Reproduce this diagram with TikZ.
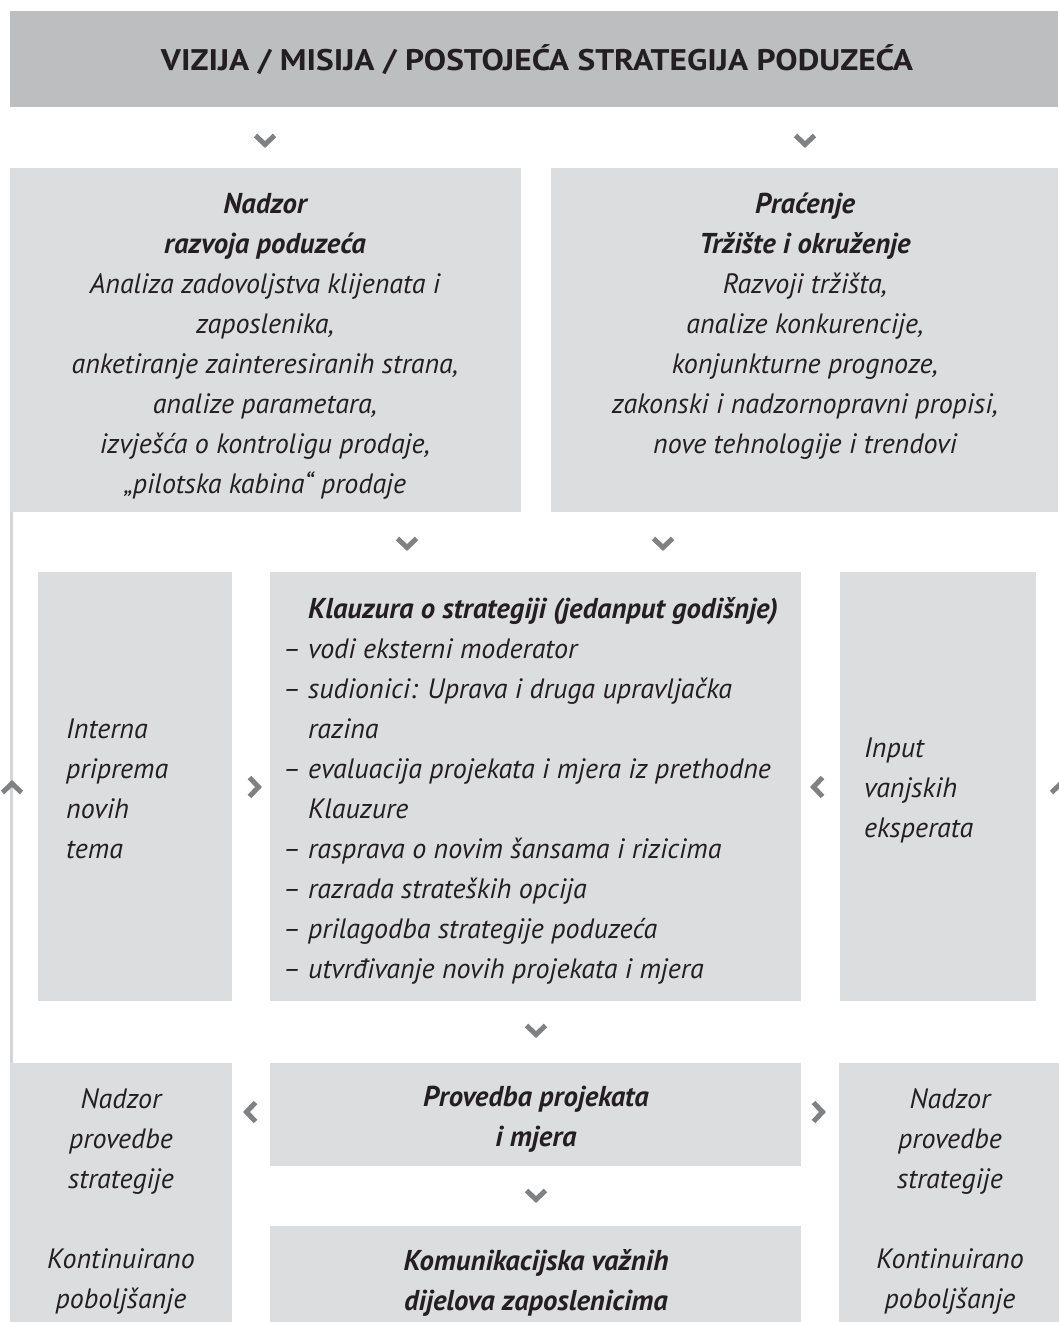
\documentclass[tikz,border=0pt]{standalone}
\usepackage{fontspec}
\setmainfont{PT Sans}
\newfontfamily\titlefont{PT Sans}[FakeStretch=1.12]
\definecolor{band}{HTML}{BDBEC0}
\definecolor{boxfill}{HTML}{DCDDDF}
\definecolor{chevc}{HTML}{808183}
\definecolor{sidec}{HTML}{D4D5D7}
\definecolor{ink}{HTML}{231F20}
\newcommand{\hd}[1]{{\fontsize{28.7}{40}\selectfont\bfseries #1}}
\tikzset{
  panel/.style={fill=boxfill, draw=none, inner sep=0pt, anchor=north west},
  txt/.style={inner sep=0pt, text=ink, align=center, font=\fontsize{28}{40}\selectfont\itshape},
  txtl/.style={txt, align=left},
  hdtxt/.style={txt, font=\fontsize{28.7}{40}\selectfont\bfseries\itshape},
  chevline/.style={draw=chevc, line width=5pt, line join=miter, line cap=butt},
  sideline/.style={draw=sidec, line width=2.5pt},
  chevdown/.pic={\path[chevline] (-9.5,-4.5) -- (0,4.5) -- (9.5,-4.5);},
  chevup/.pic={\path[chevline] (-9.5,4.5) -- (0,-4.5) -- (9.5,4.5);},
  chevright/.pic={\path[chevline] (-4.5,-9.5) -- (4.5,0) -- (-4.5,9.5);},
  chevleft/.pic={\path[chevline] (4.5,-9.5) -- (-4.5,0) -- (4.5,9.5);},
}
\begin{document}
\begin{tikzpicture}[x=1pt,y=-1pt]
\useasboundingbox (0,0) rectangle (1058,1322);
% panels
\node[panel, fill=band, minimum width=1048pt, minimum height=96pt] (top) at (10,11) {};
\node[panel, minimum width=511pt, minimum height=344pt] (tl) at (10,168) {};
\node[panel, minimum width=507pt, minimum height=344pt] (tr) at (551,168) {};
\node[panel, minimum width=194pt, minimum height=429pt] (interna) at (38,572) {};
\node[panel, minimum width=531pt, minimum height=429pt] (klauz) at (270,572) {};
\node[panel, minimum width=196pt, minimum height=429pt] (input) at (840,572) {};
\node[panel, minimum width=222pt, minimum height=260pt] (bl) at (10,1063) {};
\node[panel, minimum width=531pt, minimum height=103pt] (prov) at (270,1063) {};
\node[panel, minimum width=220pt, minimum height=260pt] (br) at (839,1063) {};
\node[panel, minimum width=531pt, minimum height=97pt] (komm) at (270,1226) {};
% side line
\coordinate (sidetop) at (11.5,512);
\coordinate (sidebot) at (11.5,1063);
\path[sideline] (sidetop) -- (sidebot);
% texts
\node[font=\titlefont\fontsize{29.8}{40}\selectfont\bfseries, text=ink, inner sep=0pt] (toptxt) at (537,60) {VIZIJA / MISIJA / POSTOJEĆA STRATEGIJA PODUZEĆA};
\node[txt] (tltxt) at (265,346) {\hd{Nadzor}\\\hd{razvoja poduzeća}\\Analiza zadovoljstva klijenata i\\zaposlenika,\\anketiranje zainteresiranih strana,\\analize parametara,\\izvješća o kontroligu prodaje,\\„pilotska kabina“ prodaje};
\node[txt] (trtxt) at (805,326) {\hd{Praćenje}\\\hd{Tržište i okruženje}\\Razvoji tržišta,\\analize konkurencije,\\konjunkturne prognoze,\\zakonski i nadzornopravni propisi,\\nove tehnologije i trendovi};
\node[txtl, anchor=west] (internatxt) at (66,789) {Interna\\priprema\\novih\\tema};
\node[txtl, anchor=west] (klauztxt) at (283,791) {\phantom{– }\hd{Klauzura o strategiji (jedanput godišnje)}\\– vodi eksterni moderator\\– sudionici: Uprava i druga upravljačka\\\phantom{– }razina\\– evaluacija projekata i mjera iz prethodne\\\phantom{– }Klauzure\\– rasprava o novim šansama i rizicima\\– razrada strateških opcija\\– prilagodba strategije poduzeća\\– utvrđivanje novih projekata i mjera};
\node[txtl, anchor=west] (inputtxt) at (864,790) {Input\\vanjskih\\eksperata};
\node[txt] (bltxt) at (121,1201) {Nadzor\\provedbe\\strategije\\[40pt]Kontinuirano\\poboljšanje};
\node[txt] (brtxt) at (950,1201) {Nadzor\\provedbe\\strategije\\[40pt]Kontinuirano\\poboljšanje};
\node[hdtxt] (provtxt) at (536,1119) {Provedba projekata\\i mjera};
\node[hdtxt] (kommtxt) at (536,1283) {Komunikacijska važnih\\dijelova zaposlenicima};
% chevrons
\pic at (265,140) {chevdown};
\pic at (805,140) {chevdown};
\pic at (407,543) {chevdown};
\pic at (663,543) {chevdown};
\pic at (254,787) {chevright};
\pic at (818,787) {chevleft};
\pic at (12,788) {chevup};
\pic at (1061,788) {chevup};
\pic at (536,1030) {chevdown};
\pic at (251,1112) {chevleft};
\pic at (818,1112) {chevright};
\pic at (536,1195) {chevdown};
\end{tikzpicture}
\end{document}
